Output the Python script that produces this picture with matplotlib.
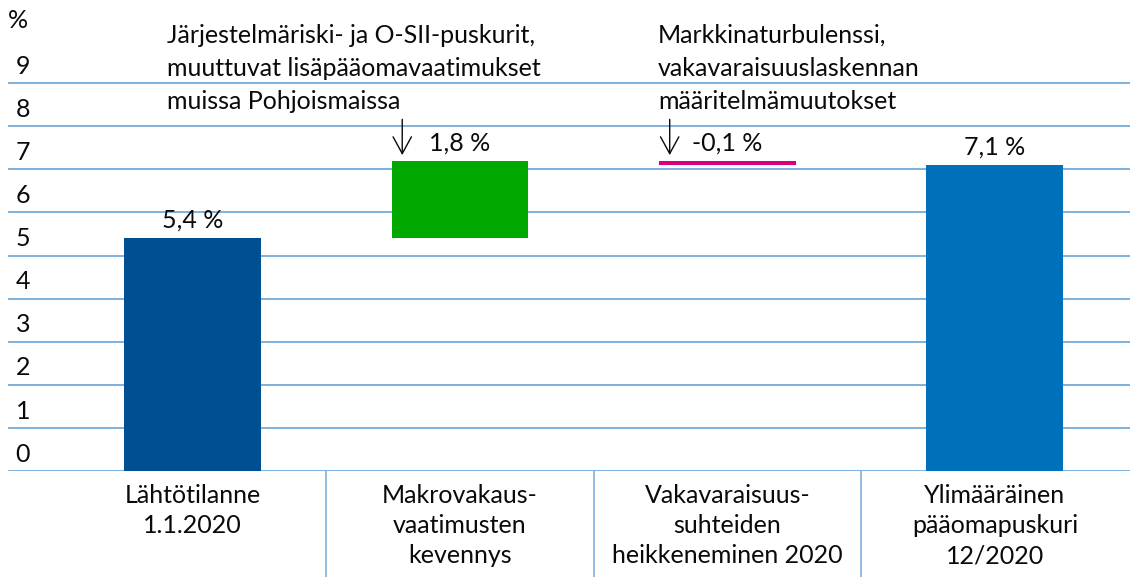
import numpy as np
import matplotlib.pyplot as plt
from matplotlib.transforms import blended_transform_factory

plt.rcParams['font.family'] = ['Lato', 'DejaVu Sans']

# waterfall: start, changes, end
categories = ['Lähtötilanne\n1.1.2020',
              'Makrovakaus-\nvaatimusten\nkevennys',
              'Vakavaraisuus-\nsuhteiden\nheikkeneminen 2020',
              'Ylimääräinen\npääomapuskuri\n12/2020']
start_value = 5.4
changes = [1.8, -0.1]
end_value = 7.1
value_labels = ['5,4 %', '1,8 %', '-0,1 %', '7,1 %']
notes = ['Järjestelmäriski- ja O-SII-puskurit,\nmuuttuvat lisäpääomavaatimukset\nmuissa Pohjoismaissa',
         'Markkinaturbulenssi,\nvakavaraisuuslaskennan\nmääritelmämuutokset']
yticks = np.arange(0, 10)

dark_blue = '#004f93'
green = '#00a800'
magenta = '#d6007f'
blue = '#0070ba'
grid_col = '#7fb1dc'
txt = '#0a0a0a'
fs = 18

# bar bottoms and heights
bottoms = [0]
heights = [start_value]
level = start_value
for c in changes:
    if c >= 0:
        bottoms.append(level)
        heights.append(c)
    else:
        bottoms.append(level + c)
        heights.append(-c)
    level += c
bottoms.append(0)
heights.append(end_value)
colors = [dark_blue, green, magenta, blue]

fig = plt.figure(figsize=(11.3, 5.77), dpi=100)
ax = fig.add_axes([8 / 1130, 106 / 577, 1122 / 1130, 431 / 577])
x = np.arange(len(categories))
width = 0.512

ax.bar(x, heights, bottom=bottoms, width=width, color=colors, zorder=3)

ax.set_xlim(-0.69, 3.505)
ax.set_ylim(0, 10)
for y in yticks:
    ax.axhline(y, color=grid_col, lw=1.4, zorder=1)
for s in ax.spines.values():
    s.set_visible(False)
ax.set_xticks([])
ax.set_yticks([])

# y labels sit above gridlines
ytr = blended_transform_factory(fig.transFigure, ax.transData)
for y in yticks:
    ax.text(23 / 1130, y + 0.39, str(y), transform=ytr, ha='center', va='center',
            fontsize=fs, color=txt)
fig.text(18 / 1130, 1 - 20 / 577, '%', ha='center', va='center', fontsize=fs, color=txt)

# category labels and dividers
xtr = ax.get_xaxis_transform()
ax.vlines([0.5, 1.5, 2.5], 0, -106 / 431, transform=xtr, color=grid_col, lw=1.2, clip_on=False)
for i, lab in enumerate(categories):
    ax.text(i, -0.03, lab, transform=xtr, ha='center', va='top', fontsize=fs,
            linespacing=1.38, color=txt)

# value labels
tops = [b + h for b, h in zip(bottoms, heights)]
tops[2] = tops[1]
for i, lab in enumerate(value_labels):
    ax.text(x[i], tops[i] + 0.15, lab, ha='center', va='bottom', fontsize=fs, color=txt)

# arrows for changes
for i in [1, 2]:
    ax.annotate('', xy=(x[i] - width / 2 + 0.04, 7.33), xytext=(x[i] - width / 2 + 0.04, 8.16),
                arrowprops=dict(arrowstyle='->,head_length=0.55,head_width=0.3', lw=1.0,
                                color=txt, mutation_scale=22, shrinkA=0, shrinkB=0))

# notes
ax.text(-0.095, 10.37, notes[0], ha='left', va='top', fontsize=fs, linespacing=1.52, color=txt)
ax.text(1.74, 10.37, notes[1], ha='left', va='top', fontsize=fs, linespacing=1.52, color=txt)

fig.savefig('out.png', dpi=100)
